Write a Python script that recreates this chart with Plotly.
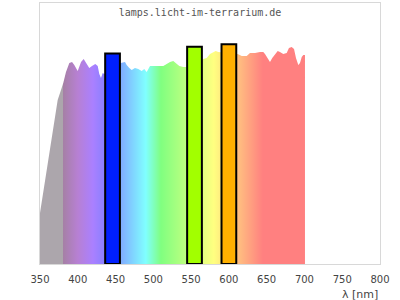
import plotly.graph_objects as go

# Spectrum (wavelength nm, relative height)
wl = [350, 373.4, 377.8, 380.8, 384.4, 388.8, 392.4, 395.4, 399.9, 404.3, 407.8, 410.9,
      415.2, 418.8, 423.2, 426.4, 428.5, 430.7, 433.0, 435.1,
      456.8, 462.5, 464.7, 468.2, 471.4, 475.7, 480.1, 484.6, 488.0, 491.2, 495.6,
      502.2, 513.2, 517.7, 522.1, 526.4, 530.0, 534.4, 539.7, 543.2,
      566.1, 570.6, 575.0, 579.4, 582.5, 586.0,
      611.7, 617.0, 623.6, 627.9, 634.6, 641.2, 645.5, 647.8, 651.4, 654.4, 657.4,
      661.0, 664.6, 667.6, 672.0, 676.5, 679.5, 683.1, 686.2, 688.8, 691.9, 694.1,
      696.4, 698.5, 700.7]
intensity = [51, 164, 174, 181, 192, 201, 202, 199, 193, 202, 205, 201,
             196, 198, 200, 198, 190, 186, 191, 190,
             201, 202, 199, 196, 194, 196, 195, 193, 195, 192, 198,
             198, 198, 200, 202, 203, 201, 198, 197, 197,
             205, 206, 210, 212, 213, 212,
             210, 208, 208, 211, 211, 212, 212, 210, 205, 202, 206,
             209, 213, 212, 210, 211, 216, 217, 215, 206, 199, 201,
             207, 209, 209]

# Gradient stops for the spectrum fill
grad_nm = [350, 381, 381.01, 400, 420, 440, 490, 510, 580, 645, 700]
grad_col = ["rgb(172,166,172)", "rgb(172,166,172)", "rgb(166,128,166)", "rgb(183,128,211)",
            "rgb(170,128,255)", "rgb(128,128,255)", "rgb(128,255,255)", "rgb(128,255,128)",
            "rgb(255,255,128)", "rgb(255,128,128)", "rgb(255,128,128)"]

# Peak bars
bar_nm = [446, 554.5, 600]
bar_h = [210.5, 217.3, 219.7]
bar_col = ["rgb(0,31,255)", "rgb(162,255,0)", "rgb(255,176,0)"]
bar_w = 19.5

ticks = [350, 400, 450, 500, 550, 600, 650, 700, 750, 800]
XR = [350, 800]
YR = [0, 261]

g0, g1 = grad_nm[0], grad_nm[-1]
cscale = [[(n - g0) / (g1 - g0), c] for n, c in zip(grad_nm, grad_col)]

fig = go.Figure()
fig.add_trace(go.Scatter(
    x=wl, y=intensity, mode="lines", line=dict(width=0, color="rgba(0,0,0,0)"),
    fill="tozeroy",
    fillgradient=dict(type="horizontal", colorscale=cscale, start=g0, stop=g1),
    hoverinfo="skip", showlegend=False))
fig.add_trace(go.Bar(
    x=bar_nm, y=bar_h, width=[bar_w] * len(bar_nm), xaxis="x2", yaxis="y2",
    marker=dict(color=bar_col, line=dict(color="black", width=2)),
    showlegend=False))

fig.update_layout(
    width=400, height=300,
    margin=dict(l=40, r=20, t=3, b=36),
    paper_bgcolor="white", plot_bgcolor="white",
    title=dict(text="lamps.licht-im-terrarium.de", x=0.5, xref="container", xanchor="center",
               y=1 - 12 / 300, yref="container", yanchor="middle",
               font=dict(family="DejaVu Sans Mono", size=10, color="#555555")),
    xaxis=dict(range=XR, tickvals=ticks, ticktext=[str(t) for t in ticks],
               showgrid=False, zeroline=False, showline=True, mirror=True,
               linecolor="#d8d8d8", linewidth=1, ticks="", ticklabelstandoff=6,
               tickfont=dict(family="DejaVu Sans", size=10, color="#444444")),
    yaxis=dict(range=YR, showticklabels=False, showgrid=False, zeroline=False,
               showline=True, mirror=True, linecolor="#d8d8d8", linewidth=1, ticks=""),
    xaxis2=dict(range=XR, overlaying="x", visible=False, matches=None),
    yaxis2=dict(range=YR, overlaying="y", visible=False),
    annotations=[dict(text="λ [nm]", xref="paper", yref="paper", x=1, y=-30 / 261,
                      xanchor="right", yanchor="middle", showarrow=False,
                      font=dict(family="DejaVu Sans", size=11, color="#444444"))],
)

fig.write_html("out.html")
